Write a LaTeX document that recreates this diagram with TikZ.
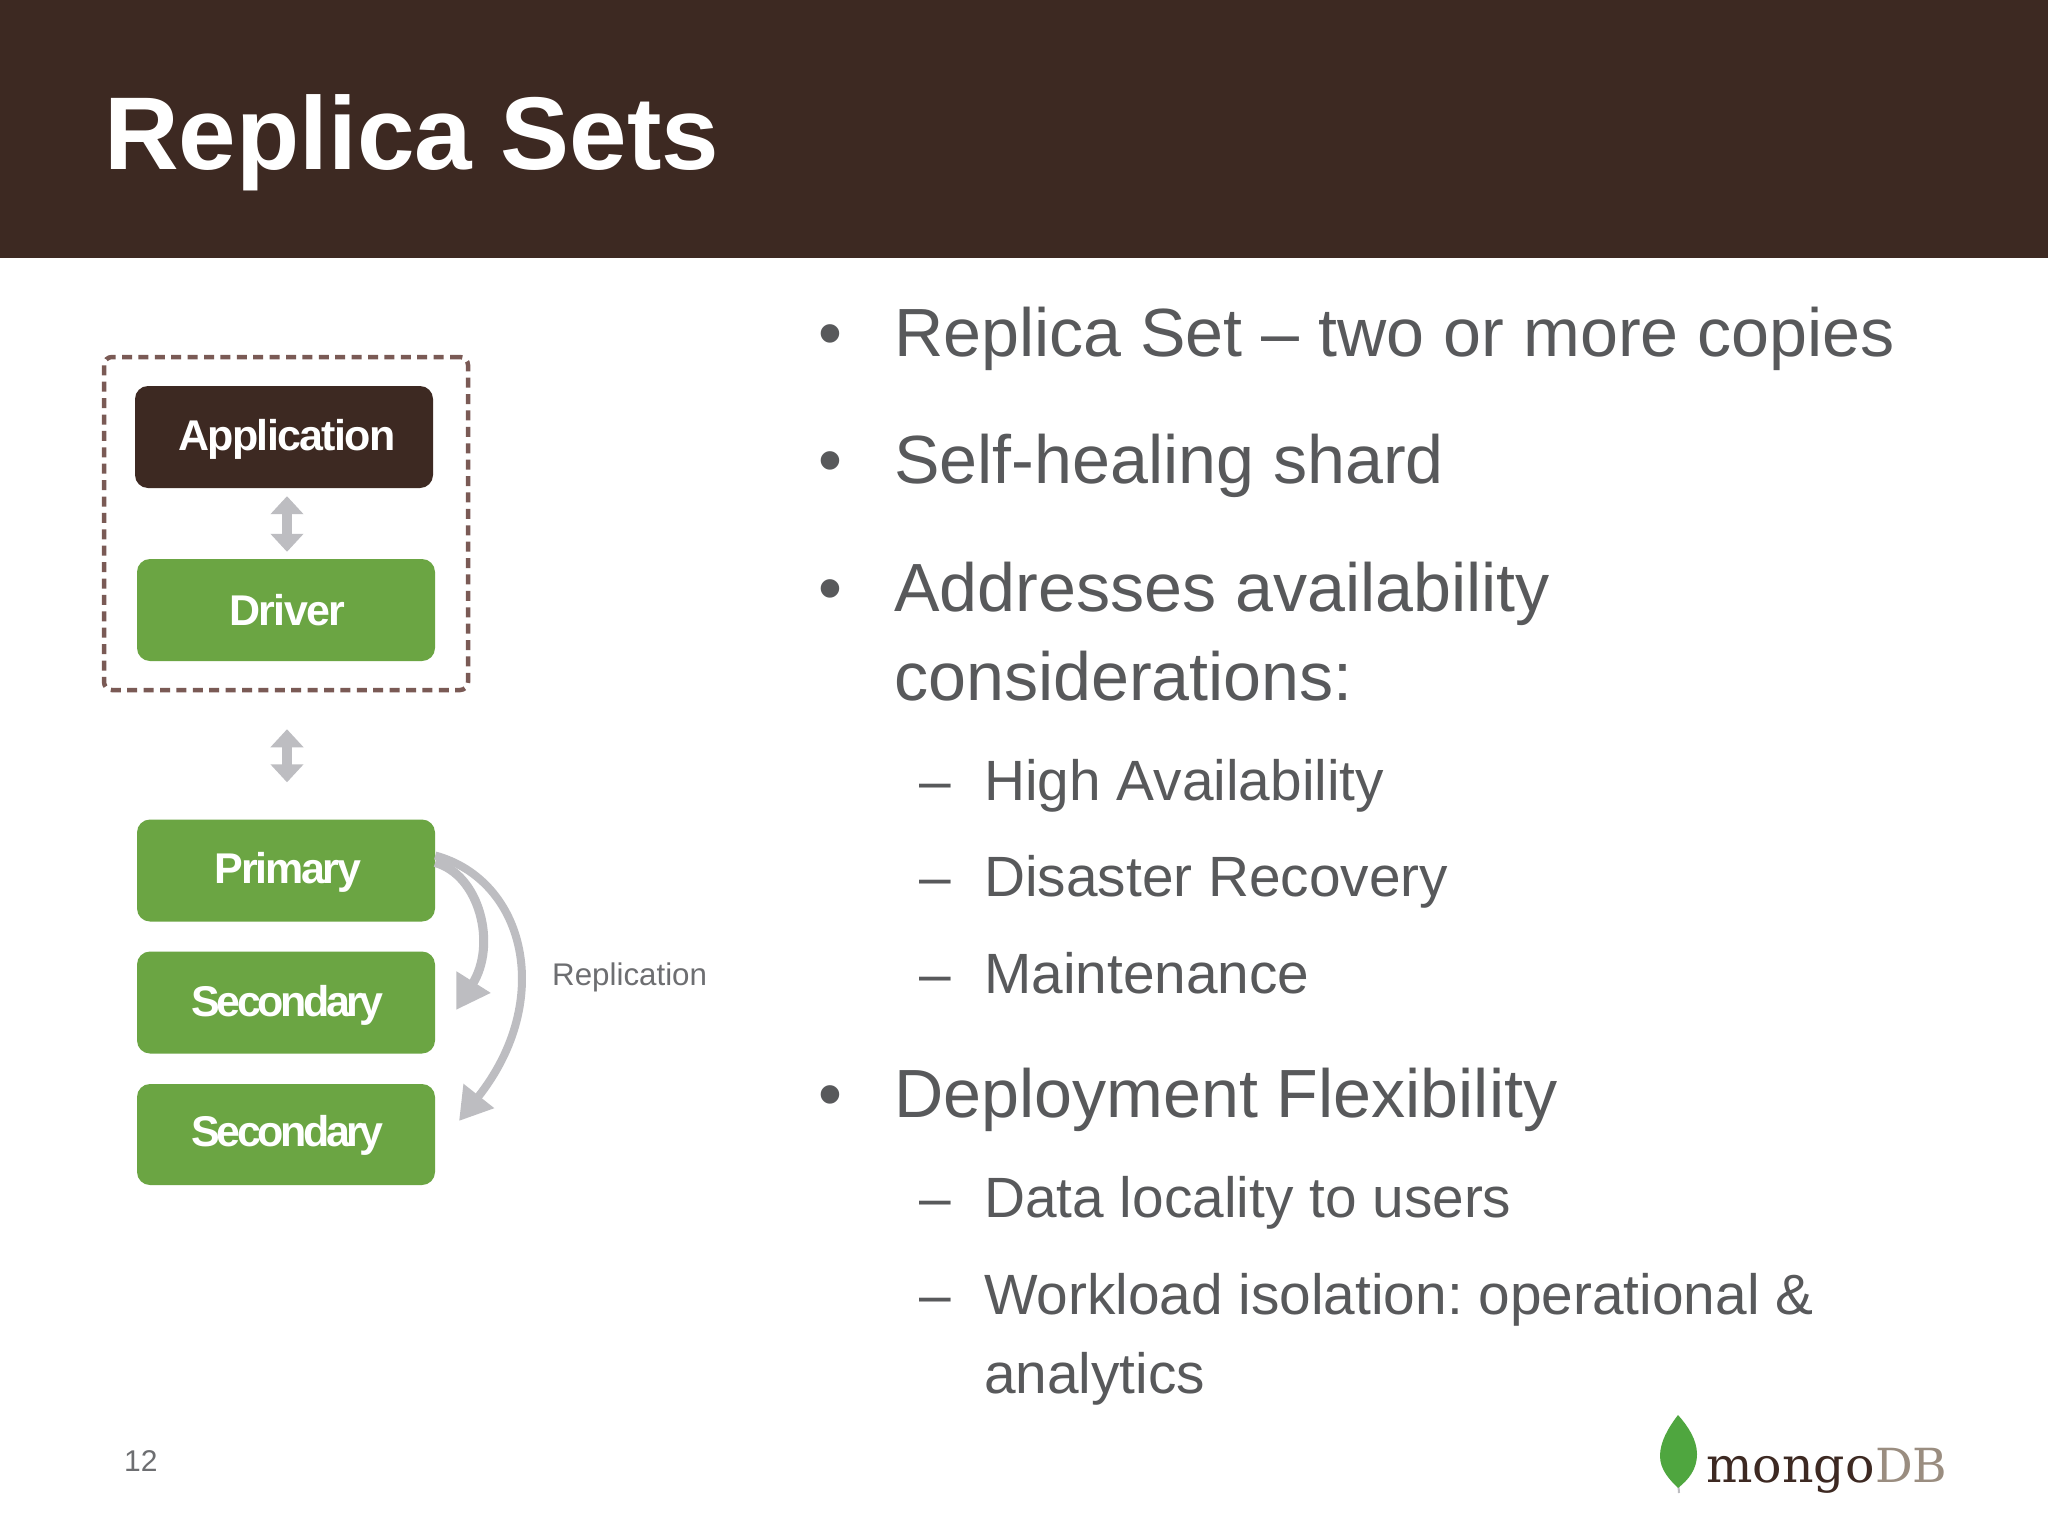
\documentclass[tikz,border=0pt]{standalone}
\usepackage{fontspec}
\setmainfont{Liberation Sans}
\newfontfamily\boxfont{Liberation Sans}[LetterSpace=-4]
\newfontfamily\primfont{Liberation Sans}[LetterSpace=-5.3]
\newfontfamily\secfont{Liberation Sans}[LetterSpace=-8]
\newfontfamily\logofont{DejaVu Serif}
\usetikzlibrary{arrows.meta}
\definecolor{headbrown}{HTML}{3D2922}
\definecolor{leafgreen}{HTML}{6BA543}
\definecolor{logoleaf}{HTML}{4FA63F}
\definecolor{bodygray}{HTML}{58595B}
\definecolor{arrowgray}{HTML}{BDBDC1}
\definecolor{dashbrown}{HTML}{7A5A55}
\definecolor{labelgray}{HTML}{6D6E71}
\definecolor{dbtan}{HTML}{9A8D80}
\tikzset{
  blockbox/.style={rounded corners=13pt,minimum width=298pt,minimum height=102pt,inner sep=0pt,
    text=white,text height=31pt,text depth=0pt},
  boxlabel/.style={font=\boxfont\bfseries\fontsize{43}{46}\selectfont},
  primlabel/.style={font=\primfont\bfseries\fontsize{43}{46}\selectfont},
  seclabel/.style={font=\secfont\bfseries\fontsize{43}{46}\selectfont},
  greenbox/.style={blockbox,fill=leafgreen},
  brownbox/.style={blockbox,fill=headbrown},
  bulletmain/.style={anchor=base west,inner sep=0pt,text=bodygray,font=\frenchspacing\fontsize{68.2}{72}\selectfont},
  bulletsub/.style={anchor=base west,inner sep=0pt,text=bodygray,font=\frenchspacing\fontsize{56.8}{60}\selectfont},
  twoway/.style={draw=arrowgray,line width=10pt,{Triangle[length=18pt,width=32pt]}-{Triangle[length=18pt,width=32pt]}},
  replarrowA/.style={draw=arrowgray,line width=9pt,-{Triangle[length=33pt,width=38pt]}},
  replarrowB/.style={draw=arrowgray,line width=8pt,-{Triangle[length=32pt,width=37pt]}}
}
\begin{document}
\begin{tikzpicture}[x=1pt,y=-1pt]
\path[use as bounding box,fill=white] (0,0) rectangle (2048,1536);
\fill[headbrown] (0,0) rectangle (2048,258);
\node[anchor=base west,inner sep=0pt,text=white,font=\bfseries\fontsize{103.4}{110}\selectfont] (title) at (104,169) {Replica Sets};

% client box
\node[draw=dashbrown,line width=4.5pt,dash pattern=on 10pt off 6.4pt,rounded corners=8pt,minimum width=364pt,minimum height=333pt,inner sep=0pt] (client) at (286,523.5) {};
\node[brownbox,boxlabel,text depth=5pt] (app) at (284,437) {\hspace*{6pt}Application};
\node[greenbox,boxlabel] (driver) at (286,610) {\hspace*{3pt}Driver};
\node[greenbox,primlabel,text depth=5pt] (primary) at (286,870.5) {\hspace*{4pt}Primary};
\node[greenbox,seclabel,text depth=3pt] (sec1) at (286,1002.5) {\hspace*{3pt}Secondary};
\node[greenbox,seclabel,minimum height=101pt,text depth=8pt] (sec2) at (286,1134.5) {\hspace*{3pt}Secondary};

\draw[twoway,shorten <=8pt,shorten >=7pt] (app.south -| 287,0) -- (driver.north -| 287,0);
\draw[twoway,shorten <=37pt,shorten >=37pt] (client.south -| 287,0) -- (primary.north -| 287,0);

\coordinate (tipA) at (456,1010);
\coordinate (tipB) at (459,1121);
\draw[replarrowA] ([yshift=8pt]primary.east) .. controls (480,875) and (497,945) .. (tipA);
\draw[replarrowB] ([yshift=15pt]primary.east) .. controls (525,880) and (555,1000) .. (tipB);

\node[anchor=base west,inner sep=0pt,text=labelgray,font=\fontsize{31.3}{34}\selectfont] (repl) at (552,985) {Replication};

% bullets
\node[bulletmain] (b1) at (818,356) {•};
\node[bulletmain] (t1) at (894,356) {Replica Set – two or more copies};
\node[bulletmain] (b2) at (818,483) {•};
\node[bulletmain] (t2) at (894,483) {Self-healing shard};
\node[bulletmain] (b3) at (818,611) {•};
\node[bulletmain] (t3) at (894,611) {Addresses availability};
\node[bulletmain] (t3b) at (894,700) {considerations:};
\node[bulletsub] (d1) at (919,800) {–};
\node[bulletsub] (s1) at (984,800) {High Availability};
\node[bulletsub] (d2) at (919,896) {–};
\node[bulletsub] (s2) at (984,896) {Disaster Recovery};
\node[bulletsub] (d3) at (919,993) {–};
\node[bulletsub] (s3) at (984,993) {Maintenance};
\node[bulletmain] (b4) at (818,1117) {•};
\node[bulletmain] (t4) at (894,1117) {Deployment Flexibility};
\node[bulletsub] (d4) at (919,1217) {–};
\node[bulletsub] (s4) at (984,1217) {Data locality to users};
\node[bulletsub] (d5) at (919,1314) {–};
\node[bulletsub] (s5) at (984,1314) {Workload isolation: operational \&};
\node[bulletsub] (s5b) at (984,1393) {analytics};

\node[anchor=base west,inner sep=0pt,text=labelgray,font=\fontsize{30}{32}\selectfont] (page) at (124,1471) {12};

% logo
\draw[arrowgray,line width=2pt] (1678,1480) -- (1679,1493);
\fill[logoleaf] (1678,1415) .. controls (1668,1428) and (1660,1442) .. (1660,1456)
  .. controls (1660,1470) and (1670,1480) .. (1678,1488)
  .. controls (1688,1480) and (1697,1470) .. (1697,1454)
  .. controls (1697,1440) and (1688,1426) .. (1678,1415) -- cycle;
\node[anchor=base west,inner sep=0pt,text=headbrown,font=\logofont\fontsize{49}{50}\selectfont] (mongo) at (1706,1482) {mongo};
\node[anchor=base west,inner sep=0pt,text=dbtan,font=\logofont\fontsize{47}{50}\selectfont] (db) at (mongo.base east) {DB};
\end{tikzpicture}
\end{document}
